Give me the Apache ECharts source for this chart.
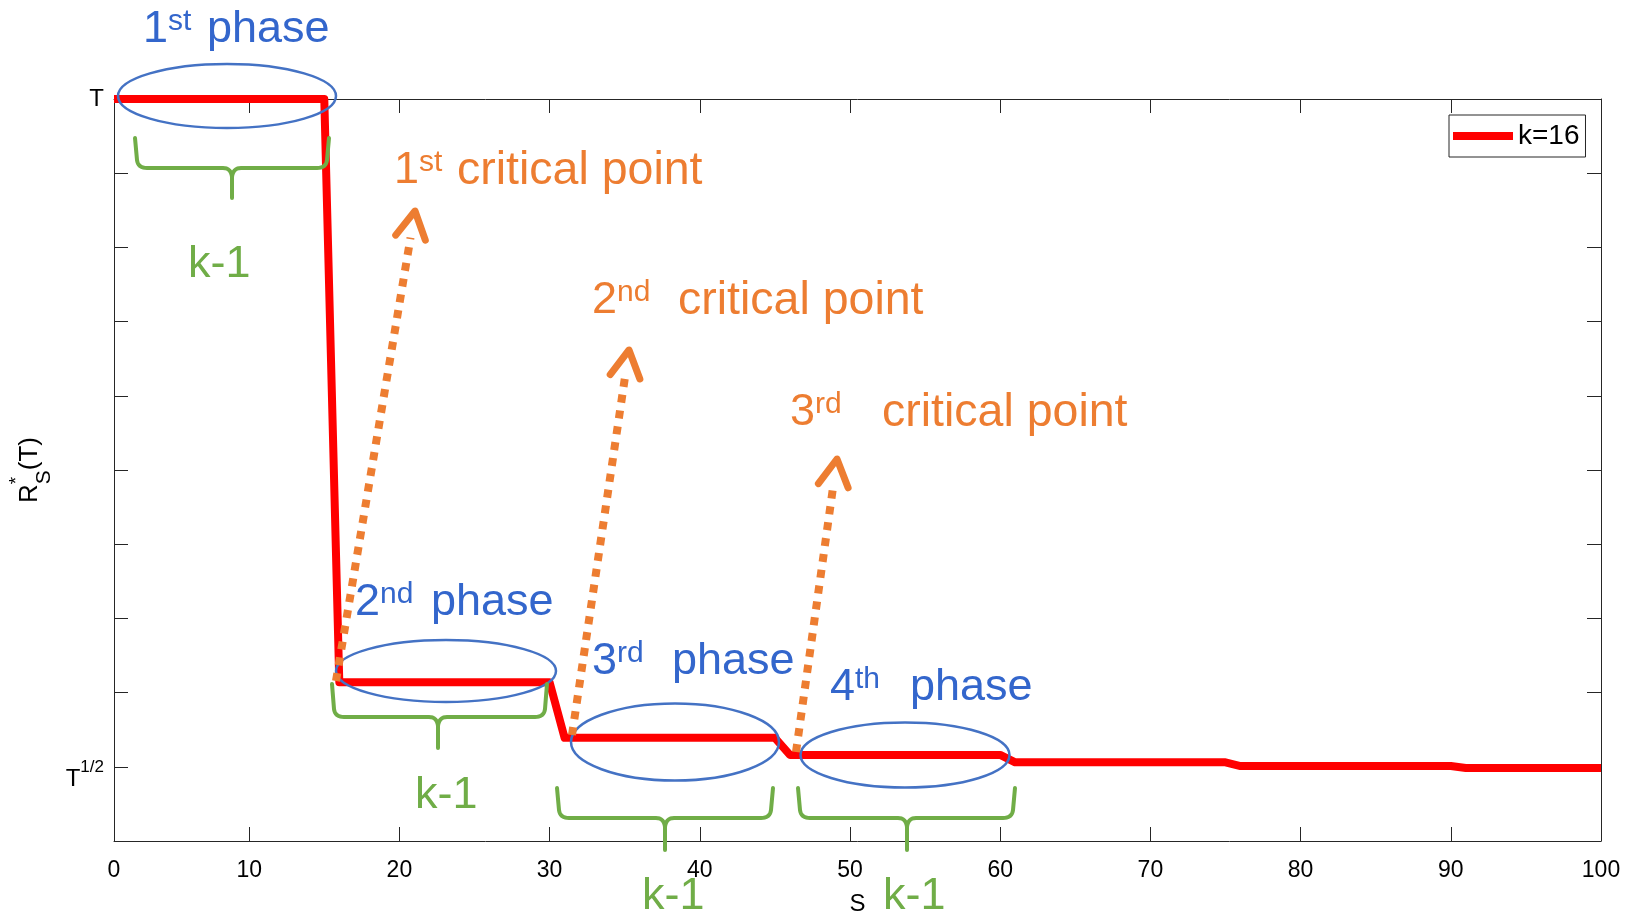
<!DOCTYPE html>
<html>
<head>
<meta charset="utf-8">
<script src="https://cdn.jsdelivr.net/npm/echarts@6/dist/echarts.min.js"></script>
<style>
html,body{margin:0;padding:0;background:#fff;}
#chart{width:1636px;height:916px;}
</style>
</head>
<body>
<div id="chart"></div>
<script>
// ---- data ----
const sValues = [1, 15, 16, 30, 31, 45, 46, 60, 61, 75, 76, 90, 91, 100];
const rValues = [10, 10, 2.14, 2.14, 1.39, 1.39, 1.16, 1.16, 1.06, 1.06, 1.01, 1.01, 0.985, 0.985];
const seriesName = 'k=16';
const xAxisName = 'S';
const xTickValues = [10, 20, 30, 40, 50, 60, 70, 80, 90];
const xLabelValues = [1, 10, 20, 30, 40, 50, 60, 70, 80, 90, 100];
const xLabelText = { 1: '0' };
const yTickLabels = { 1: '{m|T}{s|1/2}', 10: '{n|T}' };

// ---- annotations (pixel layout) ----
const ellipses = [
  [227, 96, 109, 32],
  [446, 671, 110, 31],
  [675, 742, 104, 38.5],
  [905, 755, 104.5, 32.5]
];
const braces = [
  [135, 329, 232, 138, 168, 198],
  [332, 547, 438, 684, 717, 748],
  [557, 773, 665, 788, 818, 850],
  [798, 1015, 907, 788, 818, 850]
];
const arrows = [
  [336, 681, 415, 211],
  [572, 735, 629, 350],
  [796, 752, 837, 459]
];
// [number, superscript, word, numberX, wordX, baseline]
const phaseTexts = [
  ['1', 'st', 'phase', 143, 207, 45],
  ['2', 'nd', 'phase', 355, 431, 618],
  ['3', 'rd', 'phase', 592, 672, 677],
  ['4', 'th', 'phase', 830, 910, 703]
];
const criticalTexts = [
  ['1', 'st', 'critical point', 394, 457, 186],
  ['2', 'nd', 'critical point', 592, 678, 316],
  ['3', 'rd', 'critical point', 790, 882, 428]
];
const greenTexts = [
  ['k-1', 188, 280],
  ['k-1', 415, 811],
  ['k-1', 642, 912],
  ['k-1', 883, 912]
];

const FAM = "'Liberation Sans', Arial, Helvetica, sans-serif";
const BLUE_T = '#3366CC', BLUE_E = '#4472C4', ORANGE = '#ED7D31', GREEN = '#70AD47', AXIS = '#262626';

function annRich(color, fs) {
  return {
    n: { fontSize: fs, lineHeight: 45, fontFamily: FAM, verticalAlign: 'top', fill: color, color: color },
    s: { fontSize: 30, lineHeight: 24, fontFamily: FAM, verticalAlign: 'top', fill: color, color: color }
  };
}
function textEl(txt, x, baseline, color, fs) {
  return { type: 'text', x: x, y: baseline - 38, z: 100,
    style: { text: txt, rich: annRich(color, fs || 45), fill: color, align: 'left', verticalAlign: 'top',
             fontSize: fs || 45, fontFamily: FAM } };
}
function quad(p0, p1, p2, n) {
  const pts = [];
  for (let i = 0; i <= n; i++) {
    const t = i / n, a = (1 - t) * (1 - t), b = 2 * (1 - t) * t, c = t * t;
    pts.push([a * p0[0] + b * p1[0] + c * p2[0], a * p0[1] + b * p1[1] + c * p2[1]]);
  }
  return pts;
}
function braceEls(b) {
  const [x1, x2, xc, yt, yh, yb] = b;
  const left = [[x1, yt]]
    .concat(quad([x1 + 2, yh - 8], [x1 + 3, yh], [x1 + 12, yh], 8))
    .concat(quad([xc - 9, yh], [xc - 1, yh], [xc, yh + 9], 8))
    .concat([[xc, yb]]);
  const right = [[x2, yt]]
    .concat(quad([x2 - 2, yh - 8], [x2 - 3, yh], [x2 - 12, yh], 8))
    .concat(quad([xc + 9, yh], [xc + 1, yh], [xc, yh + 9], 8));
  const st = { fill: 'none', stroke: GREEN, lineWidth: 4, lineJoin: 'round', lineCap: 'round' };
  return [
    { type: 'polyline', z: 100, shape: { points: left }, style: Object.assign({}, st) },
    { type: 'polyline', z: 100, shape: { points: right }, style: Object.assign({}, st) }
  ];
}
function arrowEls(a) {
  const [x0, y0, x1, y1] = a;
  const dx = x1 - x0, dy = y1 - y0, L = Math.hypot(dx, dy);
  const ux = dx / L, uy = dy / L, px = -uy, py = ux;
  const back = 27, half = 15;
  const bx = x1 - ux * back, by = y1 - uy * back;
  return [
    { type: 'line', z: 100, shape: { x1: x0, y1: y0, x2: bx, y2: by },
      style: { stroke: ORANGE, lineWidth: 8, lineDash: [8, 8], lineCap: 'butt' } },
    { type: 'polyline', z: 101, shape: { points: [[bx + px * half, by + py * half], [x1, y1], [bx - px * half, by - py * half]] },
      style: { stroke: ORANGE, lineWidth: 7, lineCap: 'round', lineJoin: 'round', fill: 'none' } }
  ];
}

const graphics = [];
ellipses.forEach(e => graphics.push({ type: 'ellipse', z: 100, shape: { cx: e[0], cy: e[1], rx: e[2], ry: e[3] },
  style: { fill: 'none', stroke: BLUE_E, lineWidth: 2.5 } }));
braces.forEach(b => braceEls(b).forEach(g => graphics.push(g)));
arrows.forEach(a => arrowEls(a).forEach(g => graphics.push(g)));
phaseTexts.forEach(t => {
  graphics.push(textEl('{n|' + t[0] + '}{s|' + t[1] + '}', t[3], t[5], BLUE_T, 45));
  graphics.push(textEl('{n|' + t[2] + '}', t[4], t[5], BLUE_T, 45));
});
criticalTexts.forEach(t => {
  graphics.push(textEl('{n|' + t[0] + '}{s|' + t[1] + '}', t[3], t[5], ORANGE, 45));
  graphics.push(textEl('{n|' + t[2] + '}', t[4], t[5], ORANGE, 46.5));
});
greenTexts.forEach(t => graphics.push(textEl('{n|' + t[0] + '}', t[1], t[2], GREEN, 45)));

const chart = echarts.init(document.getElementById('chart'), null, { renderer: 'canvas' });
const axisCommon = {
  axisLine: { show: true, onZero: false, lineStyle: { color: AXIS, width: 1 } },
  axisTick: { show: true, inside: true, length: 14, lineStyle: { color: AXIS, width: 1 } },
  splitLine: { show: false }
};
const xTick = { show: true, inside: true, length: 14, lineStyle: { color: AXIS, width: 1 }, customValues: xTickValues };
const option = {
  animation: false,
  backgroundColor: '#fff',
  textStyle: { fontFamily: FAM },
  grid: { left: 114, right: 35, top: 99, bottom: 75, containLabel: false, outerBoundsMode: 'none' },
  legend: {
    left: 1449, top: 115, orient: 'horizontal',
    padding: [7, 6, 7, 4],
    itemWidth: 60, itemHeight: 8, icon: 'rect',
    backgroundColor: '#fff', borderColor: AXIS, borderWidth: 1, borderRadius: 0,
    textStyle: { fontSize: 28, lineHeight: 27, color: '#000', fontFamily: FAM },
    data: [seriesName]
  },
  xAxis: [
    Object.assign({}, axisCommon, {
      type: 'value', min: 1, max: 100, position: 'bottom',
      axisTick: xTick,
      name: xAxisName, nameLocation: 'middle', nameGap: 51,
      nameTextStyle: { fontSize: 24, color: '#000', fontFamily: FAM },
      axisLabel: { show: true, fontSize: 23, color: '#000', margin: 18, fontFamily: FAM,
        customValues: xLabelValues,
        formatter: v => (xLabelText[v] !== undefined ? xLabelText[v] : String(v)) }
    }),
    Object.assign({}, axisCommon, {
      type: 'value', min: 1, max: 100, position: 'top',
      axisTick: xTick,
      axisLabel: { show: false }
    })
  ],
  yAxis: [
    Object.assign({}, axisCommon, {
      type: 'value', min: 0, max: 10, interval: 1, position: 'left',
      name: '{n|R}{sp|*}{sb|S}{n|(T)}', nameLocation: 'middle', nameGap: 60, nameRotate: 90,
      nameTextStyle: {
        color: '#000', fontFamily: FAM, fontSize: 26,
        rich: {
          n: { fontSize: 26, lineHeight: 26, padding: [10, 0, 0, 0], verticalAlign: 'top', align: 'left', color: '#000', fontFamily: FAM },
          sp: { fontSize: 19, lineHeight: 18, width: 0, verticalAlign: 'top', align: 'left', color: '#000', fontFamily: FAM },
          sb: { fontSize: 21, lineHeight: 20, padding: [27, 0, 0, 0], verticalAlign: 'top', align: 'left', color: '#000', fontFamily: FAM }
        }
      },
      axisLabel: {
        show: true, margin: 10, color: '#000', fontFamily: FAM, fontSize: 24,
        formatter: v => yTickLabels[v] || '',
        rich: {
          n: { fontSize: 24, lineHeight: 24, verticalAlign: 'middle', color: '#000', fontFamily: FAM },
          m: { fontSize: 24, lineHeight: 24, padding: [13, 0, 0, 0], verticalAlign: 'top', color: '#000', fontFamily: FAM },
          s: { fontSize: 17, lineHeight: 17, padding: [4, 0, 0, 0], verticalAlign: 'top', color: '#000', fontFamily: FAM }
        }
      }
    }),
    Object.assign({}, axisCommon, {
      type: 'value', min: 0, max: 10, interval: 1, position: 'right',
      axisLabel: { show: false }
    })
  ],
  series: [{
    name: seriesName, type: 'line', xAxisIndex: 0, yAxisIndex: 0,
    data: sValues.map((s, i) => [s, rValues[i]]),
    showSymbol: false, symbol: 'none',
    lineStyle: { color: '#FF0000', width: 8, join: 'round', cap: 'butt' },
    itemStyle: { color: '#FF0000' },
    z: 2
  }],
  graphic: graphics
};
chart.setOption(option);
</script>
</body>
</html>
